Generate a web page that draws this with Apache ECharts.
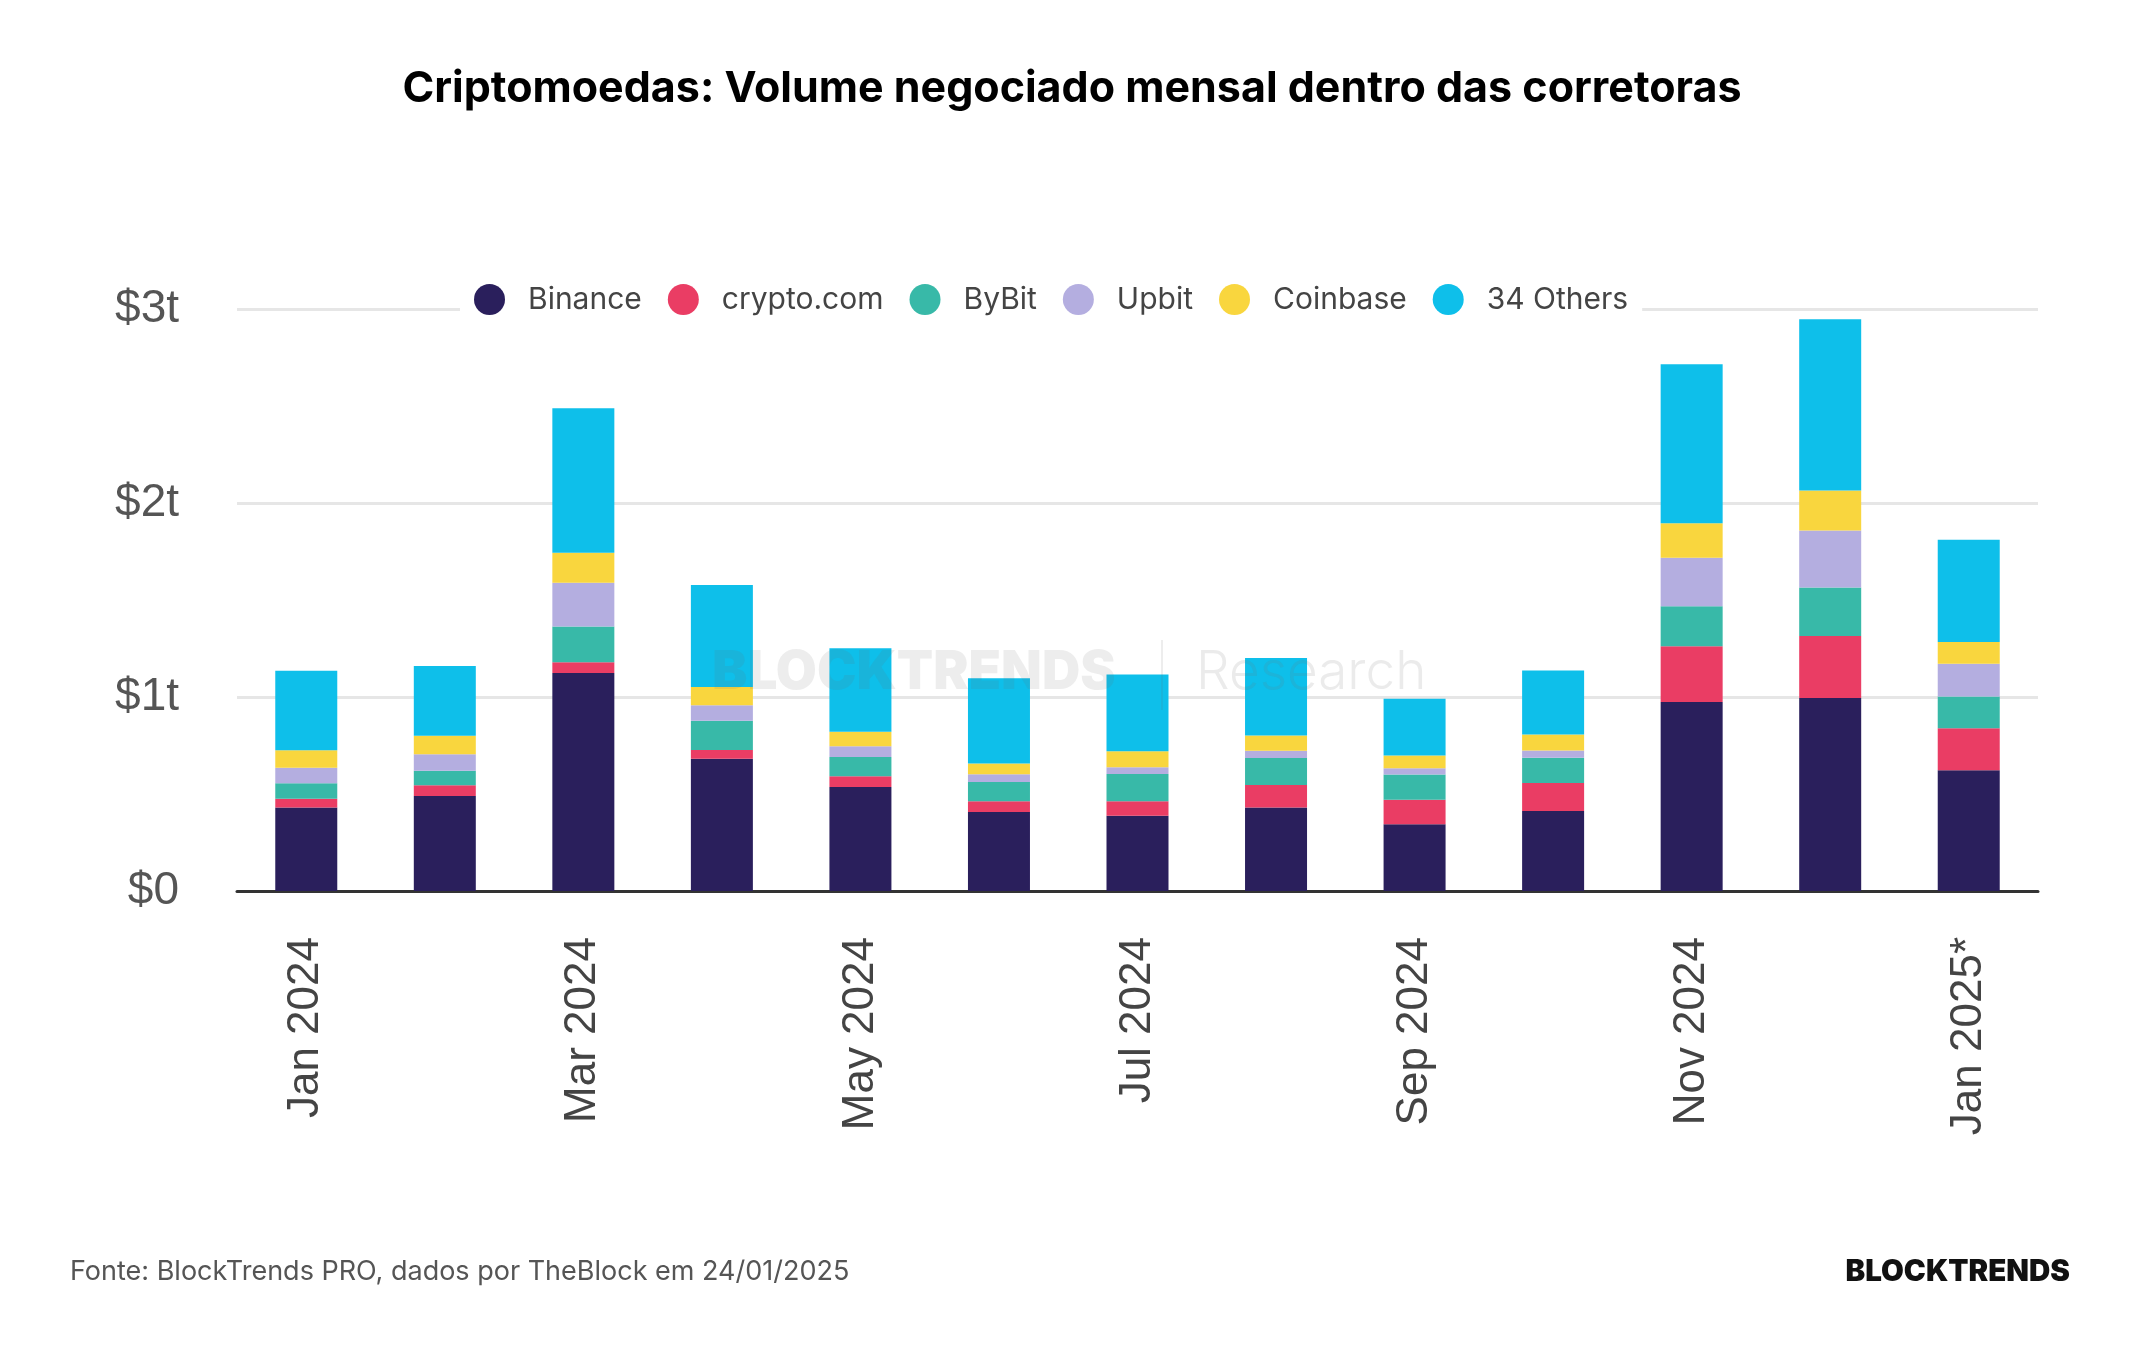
<!DOCTYPE html>
<html>
<head>
<meta charset="utf-8">
<title>Criptomoedas: Volume negociado mensal</title>
<script src="https://cdn.jsdelivr.net/npm/echarts@6/dist/echarts.min.js"></script>
<style>
  html, body { margin: 0; padding: 0; background: #fff; }
  #chart { width: 2144px; height: 1350px; }
</style>
</head>
<body>
<div id="chart"></div>
<script>
// categorias (meses)
const months = ['Jan 2024', 'Feb 2024', 'Mar 2024', 'Apr 2024', 'May 2024', 'Jun 2024',
  'Jul 2024', 'Aug 2024', 'Sep 2024', 'Oct 2024', 'Nov 2024', 'Dec 2024', 'Jan 2025*']

// volume em trilhoes de dolares
const binance = [0.43, 0.49, 1.124, 0.682, 0.536, 0.407, 0.388, 0.431, 0.344, 0.412, 0.974, 0.995, 0.622]
const cryptoCom = [0.045, 0.055, 0.055, 0.045, 0.055, 0.055, 0.075, 0.115, 0.126, 0.145, 0.288, 0.32, 0.217]
const bybit = [0.08, 0.075, 0.185, 0.15, 0.10, 0.10, 0.14, 0.14, 0.13, 0.13, 0.206, 0.25, 0.163]
const upbit = [0.08, 0.085, 0.225, 0.08, 0.055, 0.04, 0.035, 0.037, 0.033, 0.037, 0.25, 0.293, 0.169]
const coinbase = [0.09, 0.095, 0.155, 0.095, 0.075, 0.055, 0.083, 0.078, 0.065, 0.083, 0.177, 0.206, 0.113]
const others = [0.41, 0.36, 0.745, 0.525, 0.43, 0.44, 0.395, 0.40, 0.293, 0.33, 0.82, 0.883, 0.527]

const seriesNames = ['Binance', 'crypto.com', 'ByBit', 'Upbit', 'Coinbase', '34 Others']
const seriesColors = ['#2a1f5c', '#ea3d64', '#38b9a8', '#b4aee0', '#f9d63e', '#0ebfea']
const seriesData = [binance, cryptoCom, bybit, upbit, coinbase, others]

const yTicks = ['$0', '$1t', '$2t', '$3t']

let chart = echarts.init(document.getElementById('chart'))

let series = seriesNames.map(function (name, i) {
  return {
    name: name,
    type: 'bar',
    stack: 'total',
    barWidth: 62,
    data: seriesData[i],
    itemStyle: { color: seriesColors[i] },
    emphasis: { disabled: true }
  }
})

let option = {
  backgroundColor: '#fff',
  animation: false,
  title: {
    text: 'Criptomoedas: Volume negociado mensal dentro das corretoras',
    left: 'center',
    top: 63,
    textStyle: {
      fontFamily: 'Inter',
      fontWeight: 700,
      fontSize: 43,
      color: '#000'
    }
  },
  legend: {
    left: 460,
    top: 280,
    icon: 'circle',
    itemWidth: 31,
    itemHeight: 31,
    itemGap: 26,
    padding: [4, 14],
    backgroundColor: '#fff',
    textStyle: {
      fontFamily: 'Inter',
      fontSize: 30,
      color: '#444',
      padding: [0, 0, 0, 18]
    },
    data: seriesNames
  },
  grid: {
    left: 237,
    right: 106,
    top: 309,
    bottom: 459,
    containLabel: false
  },
  xAxis: {
    type: 'category',
    data: months,
    axisTick: { show: false },
    axisLine: { lineStyle: { color: '#333', width: 3 } },
    axisLabel: {
      interval: 1,
      rotate: 90,
      margin: 46,
      fontFamily: 'Liberation Sans',
      fontSize: 44,
      color: '#444'
    }
  },
  yAxis: {
    type: 'value',
    min: 0,
    max: 3,
    interval: 1,
    axisLine: { show: false },
    axisTick: { show: false },
    splitLine: { lineStyle: { color: '#e6e6e6', width: 3 } },
    axisLabel: {
      margin: 58,
      fontFamily: 'Liberation Sans',
      fontSize: 46,
      color: '#555',
      formatter: function (v) {
        return yTicks[v]
      }
    }
  },
  graphic: [
    // marca d'agua
    {
      type: 'text',
      left: 712,
      top: 647,
      z: 100,
      silent: true,
      style: {
        text: 'BLOCKTRENDS',
        fontFamily: 'Inter',
        fontWeight: 900,
        fontSize: 53,
        fill: 'rgba(110,110,110,0.12)'
      }
    },
    {
      type: 'rect',
      left: 1161,
      top: 640,
      z: 100,
      silent: true,
      shape: { width: 2, height: 70 },
      style: { fill: 'rgba(110,110,110,0.12)' }
    },
    {
      type: 'text',
      left: 1196,
      top: 647,
      z: 100,
      silent: true,
      style: {
        text: 'Research',
        fontFamily: 'Inter',
        fontWeight: 300,
        fontSize: 53,
        fill: 'rgba(110,110,110,0.14)'
      }
    },
    // rodape
    {
      type: 'text',
      left: 70,
      top: 1258,
      style: {
        text: 'Fonte: BlockTrends PRO, dados por TheBlock em 24/01/2025',
        fontFamily: 'Inter',
        fontSize: 27,
        fill: '#555'
      }
    },
    {
      type: 'text',
      right: 74,
      top: 1257,
      style: {
        text: 'BLOCKTRENDS',
        fontFamily: 'Inter',
        fontWeight: 900,
        fontSize: 29.5,
        fill: '#111'
      }
    }
  ],
  series: series
}

chart.setOption(option)
</script>
</body>
</html>
